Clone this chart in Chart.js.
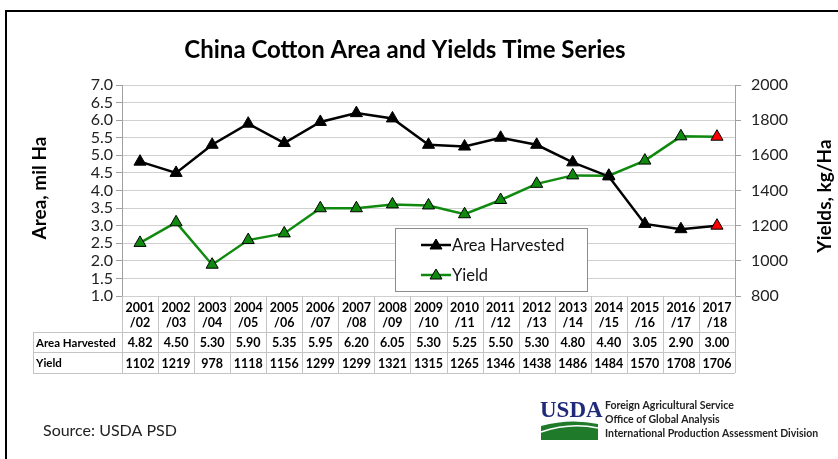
<!DOCTYPE html>
<html>
<head>
<meta charset="utf-8">
<script src="https://cdn.jsdelivr.net/npm/chart.js@4"></script>
<style>
  html, body { margin: 0; padding: 0; background: #fff; }
  #wrap { width: 838px; height: 459px; position: relative; }
</style>
</head>
<body>
<div id="wrap"><canvas id="cottonChart" width="838" height="459"></canvas></div>
<script>
// marketing years (two-line tick labels)
const years = [
  ['2001', '/02'], ['2002', '/03'], ['2003', '/04'], ['2004', '/05'], ['2005', '/06'],
  ['2006', '/07'], ['2007', '/08'], ['2008', '/09'], ['2009', '/10'], ['2010', '/11'],
  ['2011', '/12'], ['2012', '/13'], ['2013', '/14'], ['2014', '/15'], ['2015', '/16'],
  ['2016', '/17'], ['2017', '/18']
];
const areaHarvested = [4.82, 4.50, 5.30, 5.90, 5.35, 5.95, 6.20, 6.05, 5.30, 5.25, 5.50, 5.30, 4.80, 4.40, 3.05, 2.90, 3.00];
const yieldKg = [1102, 1219, 978, 1118, 1156, 1299, 1299, 1321, 1315, 1265, 1346, 1438, 1486, 1484, 1570, 1708, 1706];
const areaTicks = [1.0, 1.5, 2.0, 2.5, 3.0, 3.5, 4.0, 4.5, 5.0, 5.5, 6.0, 6.5, 7.0];
const yieldTicks = [800, 1000, 1200, 1400, 1600, 1800, 2000];

const FONT = 'Lato, "Open Sans", sans-serif';
const GREEN = '#0f8a0f';
const GRID = '#d0d0d0';
const last = years.length - 1;

// last (forecast) year marked in red
const markerFill = (base) => years.map((_, i) => i === last ? '#ff0000' : base);

const tablePlugin = {
  id: 'tablePlugin',
  afterDraw(chart) {
    const { ctx, chartArea } = chart;
    const x = chart.scales.x;
    const colW = (chartArea.right - chartArea.left) / years.length;
    const row1 = chartArea.bottom + 36;
    const row2 = row1 + 20;
    const row3 = row2 + 21;
    const labelLeft = 33;

    ctx.save();
    ctx.strokeStyle = '#c4c4c4';
    ctx.lineWidth = 1;
    ctx.beginPath();
    for (let i = 0; i <= years.length; i++) {
      const px = Math.round(chartArea.left + i * colW) + 0.5;
      ctx.moveTo(px, chartArea.bottom);
      ctx.lineTo(px, row3);
    }
    ctx.moveTo(labelLeft + 0.5, row1);
    ctx.lineTo(labelLeft + 0.5, row3);
    [row1, row2, row3].forEach(y => {
      ctx.moveTo(labelLeft, y + 0.5);
      ctx.lineTo(chartArea.right, y + 0.5);
    });
    ctx.stroke();

    ctx.fillStyle = '#000';
    ctx.textBaseline = 'middle';
    ctx.textAlign = 'left';
    ctx.font = 'bold 11.5px ' + FONT;
    ctx.fillText('Area Harvested', labelLeft + 3, (row1 + row2) / 2 + 1);
    ctx.fillText('Yield', labelLeft + 3, (row2 + row3) / 2 + 1);
    ctx.font = 'bold 12.5px ' + FONT;
    ctx.textAlign = 'center';
    years.forEach((_, i) => {
      const cx = x.getPixelForValue(i);
      ctx.fillText(areaHarvested[i].toFixed(2), cx, (row1 + row2) / 2 + 1);
      ctx.fillText(String(yieldKg[i]), cx, (row2 + row3) / 2 + 1);
    });

    // title
    ctx.font = 'bold 24px ' + FONT;
    ctx.fillText('China Cotton Area and Yields Time Series', 405, 50);

    // axis titles
    ctx.font = 'bold 19px ' + FONT;
    ctx.save();
    ctx.translate(40, 188);
    ctx.rotate(-Math.PI / 2);
    ctx.fillText('Area, mil Ha', 0, 0);
    ctx.restore();
    ctx.save();
    ctx.translate(825, 196);
    ctx.rotate(-Math.PI / 2);
    ctx.fillText('Yields, kg/Ha', 0, 0);
    ctx.restore();

    // legend box
    const lx = 395, ly = 228, lw = 192, lh = 63;
    ctx.fillStyle = '#fff';
    ctx.fillRect(lx, ly, lw, lh);
    ctx.strokeStyle = '#8c8c8c';
    ctx.strokeRect(lx + 0.5, ly + 0.5, lw, lh);
    chart.data.datasets.forEach((ds, k) => {
      const y = ly + 17 + k * 30;
      ctx.strokeStyle = ds.borderColor;
      ctx.lineWidth = 2.5;
      ctx.beginPath();
      ctx.moveTo(421, y);
      ctx.lineTo(451, y);
      ctx.stroke();
      ctx.fillStyle = ds.borderColor;
      ctx.strokeStyle = '#000';
      ctx.lineWidth = 1;
      ctx.beginPath();
      ctx.moveTo(436, y - 6);
      ctx.lineTo(442, y + 4);
      ctx.lineTo(430, y + 4);
      ctx.closePath();
      ctx.fill();
      ctx.stroke();
      ctx.fillStyle = '#111';
      ctx.font = '16.5px ' + FONT;
      ctx.textAlign = 'left';
      ctx.fillText(ds.label, 452, y + 1);
    });

    // footer
    ctx.fillStyle = '#222';
    ctx.font = '16px ' + FONT;
    ctx.textAlign = 'left';
    ctx.fillText('Source: USDA PSD', 43, 431);

    // USDA mark
    ctx.fillStyle = '#1f2a78';
    ctx.font = 'bold 23px "Liberation Serif", serif';
    ctx.fillText('USDA', 540, 411);
    ctx.fillStyle = '#1f7a2a';
    ctx.beginPath();
    ctx.moveTo(541, 426);
    ctx.quadraticCurveTo(570, 418, 598, 424);
    ctx.lineTo(598, 440);
    ctx.lineTo(541, 440);
    ctx.closePath();
    ctx.fill();
    ctx.strokeStyle = '#fff';
    ctx.lineWidth = 1.5;
    ctx.beginPath();
    ctx.moveTo(541, 432);
    ctx.quadraticCurveTo(570, 422, 598, 428);
    ctx.stroke();

    ctx.fillStyle = '#222';
    ctx.font = 'bold 10.5px ' + FONT;
    ctx.fillText('Foreign Agricultural Service', 605, 406);
    ctx.fillText('Office of Global Analysis', 605, 420);
    ctx.fillText('International Production Assessment Division', 605, 434);

    // outer frame
    ctx.strokeStyle = '#000';
    ctx.lineWidth = 2;
    ctx.beginPath();
    ctx.moveTo(6, 459);
    ctx.lineTo(6, 11);
    ctx.lineTo(838, 11);
    ctx.stroke();
    ctx.restore();
  }
};

new Chart(document.getElementById('cottonChart').getContext('2d'), {
  type: 'line',
  data: {
    labels: years,
    datasets: [
      {
        label: 'Area Harvested',
        data: areaHarvested,
        yAxisID: 'yArea',
        borderColor: '#000',
        borderWidth: 2.5,
        pointStyle: 'triangle',
        pointRadius: 7,
        pointHoverRadius: 7,
        pointBackgroundColor: markerFill('#000'),
        pointBorderColor: '#000',
        pointBorderWidth: 1,
        tension: 0
      },
      {
        label: 'Yield',
        data: yieldKg,
        yAxisID: 'yYield',
        borderColor: GREEN,
        borderWidth: 2.5,
        pointStyle: 'triangle',
        pointRadius: 7,
        pointHoverRadius: 7,
        pointBackgroundColor: markerFill(GREEN),
        pointBorderColor: '#000',
        pointBorderWidth: 1,
        tension: 0
      }
    ]
  },
  options: {
    responsive: false,
    animation: false,
    layout: { padding: { top: 85, left: 0, right: 0, bottom: 129 } },
    plugins: {
      legend: { display: false },
      title: { display: false },
      tooltip: { enabled: false }
    },
    scales: {
      x: {
        offset: true,
        grid: { display: false, drawTicks: false },
        border: { display: false },
        ticks: {
          autoSkip: false,
          maxRotation: 0,
          padding: 4,
          color: '#000',
          font: { family: FONT, size: 12.5, weight: 'bold', lineHeight: 1.25 }
        },
        afterFit(s) { s.height = 34; }
      },
      yArea: {
        position: 'left',
        min: areaTicks[0],
        max: areaTicks[areaTicks.length - 1],
        afterBuildTicks(s) { s.ticks = areaTicks.map(v => ({ value: v })); },
        grid: { color: GRID, tickLength: 6, tickColor: '#a0a0a0' },
        border: { color: '#a0a0a0' },
        ticks: {
          autoSkip: false,
          color: '#222',
          padding: 3,
          font: { family: FONT, size: 16 },
          callback: v => Number(v).toFixed(1)
        },
        afterFit(s) { s.width = 122; }
      },
      yYield: {
        position: 'right',
        min: yieldTicks[0],
        max: yieldTicks[yieldTicks.length - 1],
        afterBuildTicks(s) { s.ticks = yieldTicks.map(v => ({ value: v })); },
        grid: { drawOnChartArea: false, tickLength: 6, tickColor: '#a0a0a0' },
        border: { color: '#a0a0a0' },
        ticks: {
          autoSkip: false,
          color: '#222',
          padding: 10,
          font: { family: FONT, size: 16 },
          callback: v => String(v)
        },
        afterFit(s) { s.width = 103; }
      }
    }
  },
  plugins: [tablePlugin]
});
</script>
</body>
</html>
